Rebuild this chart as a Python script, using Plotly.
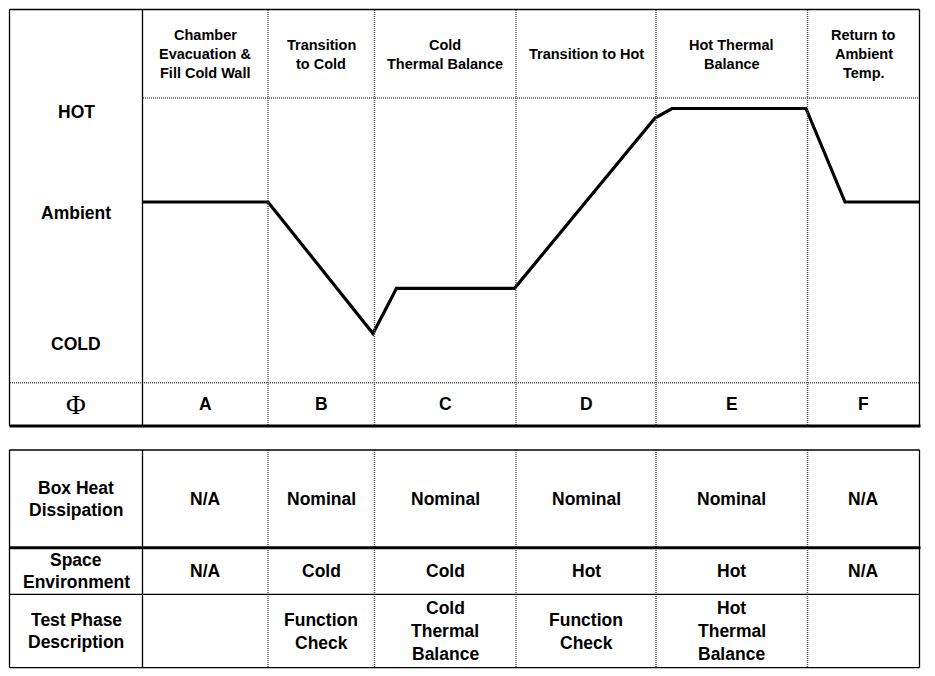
import math
import plotly.graph_objects as go

# ---------------- data ----------------
phases = ["A", "B", "C", "D", "E", "F"]
phase_titles = [
    "Chamber<br>Evacuation &<br>Fill Cold Wall",
    "Transition<br>to Cold",
    "Cold<br>Thermal Balance",
    "Transition to Hot",
    "Hot Thermal<br>Balance",
    "Return to<br>Ambient<br>Temp.",
]
level_labels = ["HOT", "Ambient", "COLD"]
level_label_values = [0.963, -0.118, -1.52]   # relative temperature level (Ambient = 0, HOT = 1)

# temperature profile: elapsed test time (arbitrary units) vs. relative temperature level
profile_time = [0, 125.5, 230.5, 254, 372, 512.5, 529.5, 663.5, 702.5, 777]
profile_level = [0, 0, -1.406, -0.923, -0.923, 0.898, 1, 1, 0, 0]

row_titles = ["Box Heat<br>Dissipation", "Space<br>Environment", "Test Phase<br>Description"]
box_heat = ["N/A", "Nominal", "Nominal", "Nominal", "Nominal", "N/A"]
space_env = ["N/A", "Cold", "Cold", "Hot", "Hot", "N/A"]
test_phase = ["", "Function<br>Check", "Cold<br>Thermal<br>Balance", "Function<br>Check",
              "Hot<br>Thermal<br>Balance", ""]

# ---------------- layout geometry (page pixels) ----------------
W, H = 935, 676
OFF = 8  # page body margin offset of the figure div
col_edges = [142.5, 268, 374.5, 516, 656, 807.5, 919.5]
left = 9.5
top_box = (9.5, 98, 382.7, 426)          # top, header bottom, phase-row top, bottom
bot_box = (450, 547.7, 594.3, 667.7)     # top, row1 bottom, row2 bottom, bottom

FONT = "Liberation Sans, Arial, sans-serif"


def px(x):
    return (x - OFF) / W


def py(y):
    return 1 - (y - OFF) / H


shapes = []


def hline(y, x0, x1, width=1.3, color="black", dash="solid"):
    if dash != "solid":
        x0 = math.ceil(x0)
    shapes.append(dict(type="line", xref="paper", yref="paper", x0=px(x0), x1=px(x1),
                       y0=py(y), y1=py(y), line=dict(color=color, width=width, dash=dash)))


def vline(x, y0, y1, width=1.3, color="black", dash="solid"):
    if dash != "solid":
        y0 = math.ceil(y0)
    shapes.append(dict(type="line", xref="paper", yref="paper", x0=px(x), x1=px(x),
                       y0=py(y0), y1=py(y1), line=dict(color=color, width=width, dash=dash)))


DOT = dict(width=1.5, color="#555555", dash="1px,1px")

# top box
t0, t1, t2, t3 = top_box
hline(t1, col_edges[0], col_edges[-1], **DOT)
hline(t2, left, col_edges[-1], **DOT)
for x in col_edges[1:-1]:
    vline(x, t0, t3, **DOT)
hline(t0, left, col_edges[-1])
vline(left, t0, t3)
vline(col_edges[-1], t0, t3)
vline(col_edges[0], t0, t3)
hline(t3, left, col_edges[-1] + 1, width=3)

# bottom table
b0, b1, b2, b3 = bot_box
for x in col_edges[1:-1]:
    vline(x, b0, b3, **DOT)
hline(b0, left, col_edges[-1])
hline(b1, left, col_edges[-1] + 1, width=3)
hline(b2, left, col_edges[-1])
hline(b3, left, col_edges[-1])
vline(left, b0, b3)
vline(col_edges[0], b0, b3)
vline(col_edges[-1], b0, b3)

annotations = []


def text(x, y, s, size, spacing, family=FONT, bold=True):
    lines = s.split("<br>")
    n = len(lines)
    for i, ln in enumerate(lines):
        if not ln:
            continue
        yy = y + (i - (n - 1) / 2) * spacing
        annotations.append(dict(
            xref="paper", yref="paper", x=px(x), y=py(yy), xanchor="center", yanchor="middle",
            text=f"<b>{ln}</b>" if bold else ln, showarrow=False,
            font=dict(family=family, size=size, color="black")))


centers = [(col_edges[i] + col_edges[i + 1]) / 2 for i in range(6)]
left_c = (left + col_edges[0]) / 2

# headers
for c, t in zip(centers, phase_titles):
    text(c, (t0 + t1) / 2 + 0.5, t, 14.5, 19)

# phase row
text(left_c, (t2 + t3) / 2 + 0.5, "Φ", 27, 20, family="Liberation Serif, Times New Roman, serif", bold=False)
for c, p in zip(centers, phases):
    text(c, (t2 + t3) / 2, p, 17.5, 20)

# level labels (positioned on the temperature axis scale)
ambient_px, unit_px = 202, 93.5
for lab, lv in zip(level_labels, level_label_values):
    text(left_c, ambient_px - lv * unit_px, lab, 17.5, 20)

# bottom table
row_mid = [(b0 + b1) / 2, (b1 + b2) / 2, (b2 + b3) / 2]
for rm, rt in zip(row_mid, row_titles):
    text(left_c, rm, rt, 17.5, 22.5)
for rows, rm in zip([box_heat, space_env, test_phase], row_mid):
    for c, v in zip(centers, rows):
        text(c, rm, v, 17.5, 23)

# ---------------- figure ----------------
fig = go.Figure()
fig.add_trace(go.Scatter(
    x=profile_time, y=profile_level, mode="lines",
    line=dict(color="black", width=3.2), xaxis="x2", yaxis="y2",
    hoverinfo="skip", showlegend=False))

y_top_lv = (ambient_px - t1) / unit_px
y_bot_lv = (ambient_px - t2) / unit_px

fig.update_layout(
    width=W, height=H, autosize=False,
    margin=dict(l=0, r=0, t=0, b=0, pad=0),
    paper_bgcolor="white", plot_bgcolor="rgba(0,0,0,0)",
    showlegend=False,
    xaxis=dict(visible=False),
    yaxis=dict(visible=False),
    xaxis2=dict(domain=[px(col_edges[0]), px(col_edges[-1])], range=[0, profile_time[-1]],
                visible=False, anchor="y2"),
    yaxis2=dict(domain=[py(t2), py(t1)], range=[y_bot_lv, y_top_lv], visible=False, anchor="x2"),
    shapes=shapes,
    annotations=annotations,
)

fig.write_html("out.html")
